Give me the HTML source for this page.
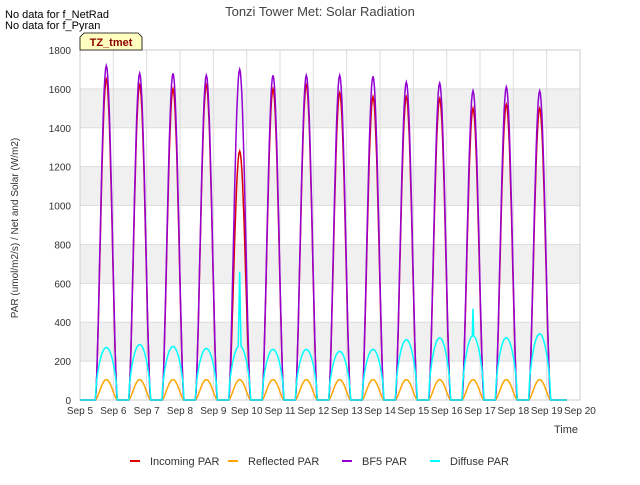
<!DOCTYPE html>
<html><head><meta charset="utf-8">
<style>
body{margin:0;background:#fff;font-family:"Liberation Sans",sans-serif;}
svg text{font-family:"Liberation Sans",sans-serif;}
</style></head>
<body>
<svg width="640" height="480" xmlns="http://www.w3.org/2000/svg">
<rect x="0" y="0" width="640" height="480" fill="#fff"/>
<g id="bands"></g>
<g id="grid"></g>
<rect x="80" y="50" width="500" height="350" fill="none" stroke="#ccc"/>
<g id="series"></g>
<g id="axes"></g>
<text x="320" y="16" text-anchor="middle" font-size="13" fill="#444">Tonzi Tower Met: Solar Radiation</text>
<text x="5" y="18" font-size="11" fill="#000">No data for f_NetRad</text>
<text x="5" y="29" font-size="11" fill="#000">No data for f_Pyran</text>
<g>
<path d="M80,50 L80,37 L84,33 L138,33 L142,37 L142,50 Z" fill="#ffffc0" stroke="#000" stroke-width="0.8"/>
<text x="111" y="46" text-anchor="middle" font-size="11" font-weight="bold" fill="#8b0000">TZ_tmet</text>
</g>
<text x="566" y="433" text-anchor="middle" font-size="11" fill="#333">Time</text>
<text transform="translate(18,228) rotate(-90)" text-anchor="middle" font-size="10" fill="#333">PAR (umol/m2/s) / Net and Solar (W/m2)</text>
<g id="legend"></g>
</svg>
<script>
const yTicks=[0,200,400,600,800,1000,1200,1400,1600,1800];
const xTickLabels=["Sep 5","Sep 6","Sep 7","Sep 8","Sep 9","Sep 10","Sep 11","Sep 12","Sep 13","Sep 14","Sep 15","Sep 16","Sep 17","Sep 18","Sep 19","Sep 20"];
const dayIndex=[0,1,2,3,4,5,6,7,8,9,10,11,12,13];
const bf5Peaks=[1720,1680,1680,1670,1700,1670,1670,1670,1665,1635,1630,1590,1610,1590];
const incomingPeaks=[1650,1620,1600,1620,1280,1600,1620,1580,1560,1560,1550,1500,1520,1500];
const diffusePeaks=[270,285,275,265,280,260,260,250,260,310,320,330,320,340];
const diffuseSpikes=[0,0,0,0,660,0,0,0,0,0,0,470,0,0];
const reflectedPeaks=[105,105,105,105,105,105,105,105,105,105,105,105,105,105];
const NS="http://www.w3.org/2000/svg";
const X=d=>80+d*(500/15), Y=v=>400-v*(350/1800);
function mk(t,a,p){const e=document.createElementNS(NS,t);for(const k in a)e.setAttribute(k,a[k]);p.appendChild(e);return e;}
const bands=document.getElementById('bands'),grid=document.getElementById('grid'),axes=document.getElementById('axes');
for(let i=1;i<yTicks.length-1;i+=2){const r=mk('rect',{x:80,y:Y(yTicks[i+1]),width:500,height:Y(yTicks[i])-Y(yTicks[i+1]),fill:'#f0f0f0'},bands);

}
yTicks.forEach(v=>{const l=mk('line',{x1:80,x2:580,y1:Y(v),y2:Y(v),stroke:'#ddd'},grid);


const t=mk('text',{x:71,y:Y(v)+4,'text-anchor':'end','font-size':10,fill:'#333'},axes);t.textContent=v;

});
xTickLabels.forEach((s,i)=>{const l=mk('line',{x1:X(i),x2:X(i),y1:50,y2:400,stroke:'#ddd'},grid);


const t=mk('text',{x:X(i),y:414,'text-anchor':'middle','font-size':10,fill:'#333'},axes);t.textContent=s;

});
function path(peaks,spikes,expo,color,w,name){let d=`M${X(0)},${Y(0)}`;
const N=30;
dayIndex.forEach((di,k)=>{const s=di+0.46,len=0.66;d+=` L${X(s).toFixed(1)},${Y(0)}`;
for(let j=1;j<=N;j++){const t=s+len*j/N;let v=peaks[k]*Math.pow(Math.sin(Math.PI*j/N),expo);
if(spikes&&spikes[k]&&Math.abs(j-N/2)<=2){v=Math.max(v,spikes[k]*(1-Math.abs(j-N/2)/3));}
d+=` L${X(t).toFixed(1)},${Y(v).toFixed(1)}`;}});
d+=` L${X(14.6)},${Y(0)}`;
const p=mk('path',{d:d,fill:'none',stroke:color,'stroke-width':w},document.getElementById('series'));

}
path(incomingPeaks,null,1.6,'#dd0000',1.5,'incoming-par-line');
path(reflectedPeaks,null,1.5,'#ffa500',1.5,'reflected-par-line');
path(bf5Peaks,null,1.6,'#9400d3',1.5,'bf5-par-line');
path(diffusePeaks,diffuseSpikes,0.6,'#00ffff',1.5,'diffuse-par-line');
const legendItems=[["Incoming PAR","#dd0000",130],["Reflected PAR","#ffa500",228],["BF5 PAR","#9400d3",342],["Diffuse PAR","#00ffff",430]];
const lg=document.getElementById('legend');
legendItems.forEach(([n,c,x])=>{const l=mk('line',{x1:x,x2:x+10,y1:461,y2:461,stroke:c,'stroke-width':2},lg);


const t=mk('text',{x:x+20,y:465,'font-size':11,fill:'#333'},lg);t.textContent=n;

});
</script>
</body></html>
